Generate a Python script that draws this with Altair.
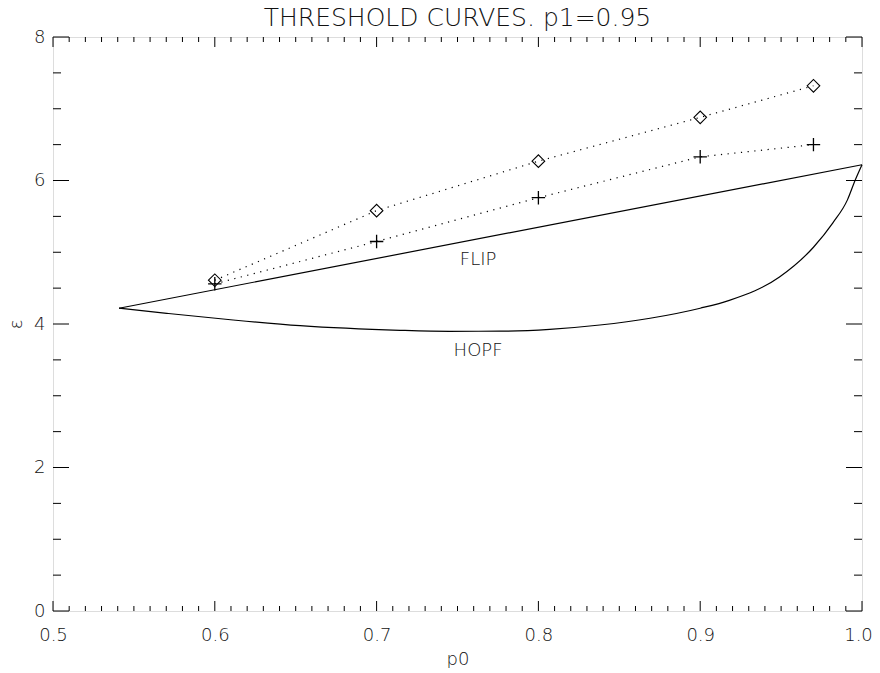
import altair as alt
import pandas as pd
import numpy as np

# ---- data ----
diamond_p0 = [0.6, 0.7, 0.8, 0.9, 0.97]
diamond_eps = [4.61, 5.58, 6.27, 6.88, 7.32]

plus_p0 = [0.6, 0.7, 0.8, 0.9, 0.97]
plus_eps = [4.56, 5.15, 5.76, 6.33, 6.50]

flip_p0 = [0.5408, 1.0]
flip_eps = [4.22, 6.22]

hopf_p0 = [0.5408, 0.5703, 0.6113, 0.6527, 0.7145, 0.745, 0.776, 0.807, 0.838,
           0.869, 0.900, 0.918, 0.949, 0.970, 0.982, 0.991, 0.9957, 1.0]
hopf_eps = [4.22, 4.149, 4.056, 3.976, 3.912, 3.898, 3.90, 3.926, 3.986,
            4.08, 4.22, 4.33, 4.655, 5.07, 5.41, 5.73, 6.0, 6.22]

labels_text = ["FLIP", "HOPF"]
labels_p0 = [0.7627, 0.7627]
labels_eps = [4.89, 3.62]

x_major = [0.5, 0.6, 0.7, 0.8, 0.9, 1.0]
y_major = [0, 2, 4, 6, 8]
x_minor = [round(v, 2) for v in np.arange(0.51, 1.0, 0.01) if round(v * 100) % 10 != 0]
y_minor = [0.5, 1, 1.5, 2.5, 3, 3.5, 4.5, 5, 5.5, 6.5, 7, 7.5]

W, H = 809, 574
FONT = "DejaVu Sans"
INK = "#111111"

xs = alt.Scale(domain=[0.5, 1.0], nice=False, zero=False)
ys = alt.Scale(domain=[0, 8], nice=False, zero=False)

xaxis = alt.Axis(values=x_major, format=".1f", title="p0", ticks=False, tickSize=0,
                 domain=False, grid=False, labelFontSize=18, labelFont=FONT,
                 labelFontWeight=200, labelColor=INK, labelPadding=15,
                 labelFlush=False, labelOverlap=False,
                 labelOffset=alt.expr("datum.value >= 0.999 ? -4 : 0"),
                 titleFontSize=18, titleFont=FONT, titleFontWeight=200,
                 titleColor=INK, titlePadding=6)
yaxis = alt.Axis(values=y_major, format="d", title="ε", ticks=False, tickSize=0,
                 domain=False, grid=False, labelFontSize=18, labelFont=FONT,
                 labelFontWeight=200, labelColor=INK, labelPadding=8,
                 labelFlush=False, labelOverlap=False,
                 titleFontSize=18, titleFont=FONT, titleFontWeight=200,
                 titleColor=INK, titlePadding=8)

flip = pd.DataFrame({"p0": flip_p0, "eps": flip_eps})
hopf = pd.DataFrame({"p0": hopf_p0, "eps": hopf_eps})
dia = pd.DataFrame({"p0": diamond_p0, "eps": diamond_eps})
plus = pd.DataFrame({"p0": plus_p0, "eps": plus_eps})
labs = pd.DataFrame({"p0": labels_p0, "eps": labels_eps, "t": labels_text})

X = alt.X("p0:Q", scale=xs, axis=xaxis)
Y = alt.Y("eps:Q", scale=ys, axis=yaxis)

flip_line = alt.Chart(flip).mark_line(color="black", strokeWidth=1.2).encode(x=X, y=Y)
hopf_line = alt.Chart(hopf).mark_line(color="black", strokeWidth=1.2,
                                      interpolate="monotone").encode(x=X, y=Y)

dot = [1.2, 5.5]
dia_line = alt.Chart(dia).mark_line(color="black", strokeWidth=1.2,
                                    strokeDash=dot).encode(x=X, y=Y)
plus_line = alt.Chart(plus).mark_line(color="black", strokeWidth=1.2,
                                      strokeDash=dot).encode(x=X, y=Y)
dia_pts = alt.Chart(dia).mark_point(shape="diamond", size=160, filled=False,
                                    color="black", strokeWidth=1.1, opacity=1).encode(x=X, y=Y)
plus_pts = alt.Chart(plus).mark_point(shape="M-1,0L1,0M0,-1L0,1", size=180, filled=False,
                                      color="black", strokeWidth=1.3, opacity=1).encode(x=X, y=Y)

texts = alt.Chart(labs).mark_text(font=FONT, fontSize=18, fontWeight=200, color=INK,
                                  align="center", baseline="middle").encode(x=X, y=Y, text="t:N")

# tick marks (inward), positioned through the scales
xmaj = pd.DataFrame({"p0": x_major})
xmin = pd.DataFrame({"p0": x_minor})
ymaj = pd.DataFrame({"eps": y_major})
ymin = pd.DataFrame({"eps": y_minor})

def xticks(df, length):
    b = alt.Chart(df).mark_rule(color="black", strokeWidth=1).encode(
        x=X, y=alt.value(H), y2=alt.value(H - length))
    t = alt.Chart(df).mark_rule(color="black", strokeWidth=1).encode(
        x=X, y=alt.value(0), y2=alt.value(length))
    return [b, t]

def yticks(df, length):
    l = alt.Chart(df).mark_rule(color="black", strokeWidth=1).encode(
        y=Y, x=alt.value(0), x2=alt.value(length))
    r = alt.Chart(df).mark_rule(color="black", strokeWidth=1).encode(
        y=Y, x=alt.value(W), x2=alt.value(W - length))
    return [l, r]

tick_layers = xticks(xmaj, 10) + xticks(xmin, 5) + yticks(ymaj, 16) + yticks(ymin, 8)

chart = alt.layer(
    flip_line, hopf_line, dia_line, plus_line, dia_pts, plus_pts, texts, *tick_layers
).properties(
    width=W, height=H,
    title=alt.TitleParams("THRESHOLD CURVES.  p1=0.95", fontSize=25, font=FONT,
                          fontWeight=200, color=INK, anchor="middle", offset=-3),
    autosize=alt.AutoSizeParams(type="none"),
    padding={"left": 45, "top": 29, "right": 10, "bottom": 57},
).configure_view(stroke="black", strokeWidth=1.2).configure(background="white")

chart.save("out.html", embed_options={"renderer": "svg", "actions": False})
